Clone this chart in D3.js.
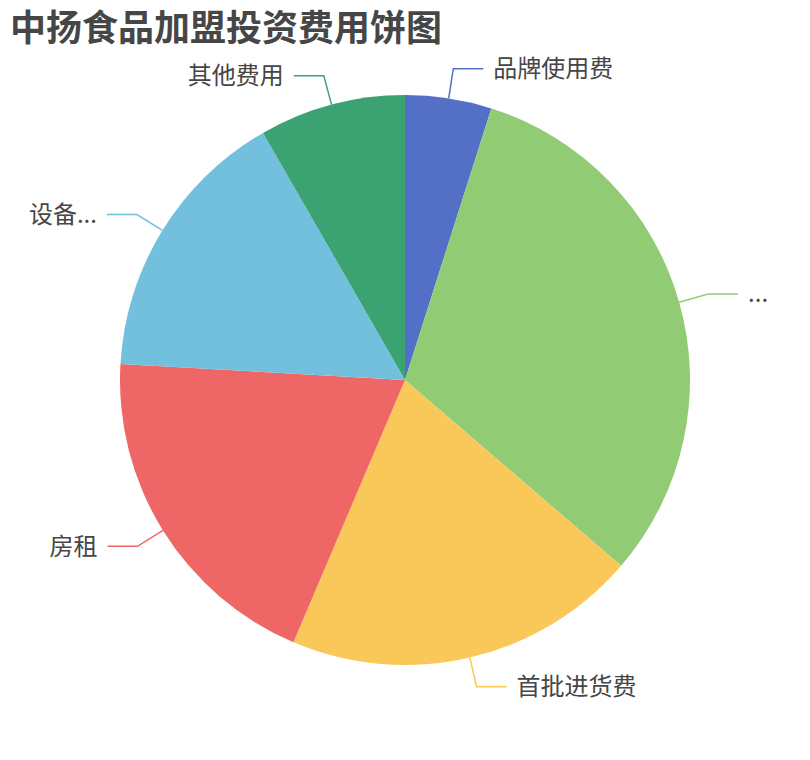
<!DOCTYPE html>
<html>
<head>
<meta charset="utf-8">
<script src="https://cdn.jsdelivr.net/npm/d3@7"></script>
<style>
  body { margin: 0; background: #fff; }
  text { font-family: "Noto Sans CJK SC", "Noto Sans", sans-serif; }
</style>
</head>
<body>
<svg id="chart"></svg>
<script>
const width = 810;
const height = 760;

// data (share of total, %)
const categories = ['品牌使用费', '...', '首批进货费', '房租', '设备...', '其他费用'];
const values = [4.9, 31.4, 20.1, 19.5, 15.8, 8.3];
const colors = ['#5470c6', '#91cc75', '#fac858', '#ee6666', '#73c0de', '#3ba272'];

const center = { x: 405, y: 380 };
const radius = 285;
const len1 = 30;
const len2 = 30;

const svg = d3.select('#chart')
  .attr('width', width)
  .attr('height', height);

// title
svg.append('text')
  .attr('x', 10)
  .attr('y', 41)
  .style('font-size', '36px')
  .style('font-weight', 'bold')
  .style('fill', '#464646')
  .text('中扬食品加盟投资费用饼图');

const data = categories.map((c, i) => ({ name: c, value: values[i], color: colors[i] }));

const pie = d3.pie()
  .value(d => d.value)
  .sort(null);

const arc = d3.arc()
  .innerRadius(0)
  .outerRadius(radius);

const arcs = pie(data);

const g = svg.append('g')
  .attr('transform', `translate(${center.x}, ${center.y})`);

g.selectAll('.slice')
  .data(arcs)
  .enter()
  .append('path')
  .attr('class', 'slice')
  .attr('d', arc)
  .attr('fill', d => d.data.color);

// label lines + labels
arcs.forEach(d => {
  const mid = (d.startAngle + d.endAngle) / 2;
  const sx = Math.sin(mid), sy = -Math.cos(mid);
  const p0 = [sx * radius, sy * radius];
  const p1 = [sx * (radius + len1), sy * (radius + len1)];
  const dir = sx >= 0 ? 1 : -1;
  const p2 = [p1[0] + dir * len2, p1[1]];

  g.append('path')
    .attr('d', d3.line()([p0, p1, p2]))
    .attr('fill', 'none')
    .attr('stroke', d.data.color)
    .attr('stroke-width', 1.5);

  g.append('text')
    .attr('x', p2[0] + dir * 10)
    .attr('y', p2[1])
    .attr('dy', '0.35em')
    .attr('text-anchor', dir > 0 ? 'start' : 'end')
    .style('font-size', '24px')
    .style('fill', '#464646')
    .text(d.data.name);
});
</script>
</body>
</html>
